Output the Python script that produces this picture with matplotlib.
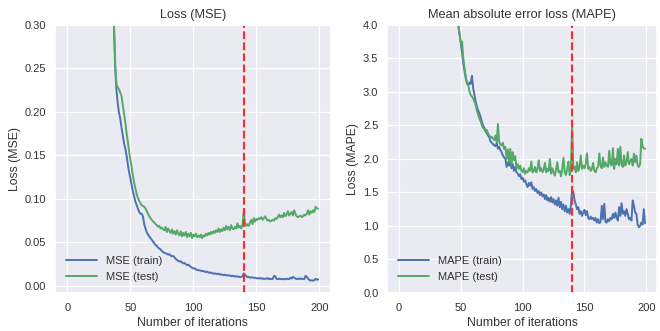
import numpy as np
import matplotlib
matplotlib.use("Agg")
import matplotlib.pyplot as plt
import seaborn as sns

sns.set_theme(style="darkgrid")
plt.rcParams["font.family"] = ["Liberation Sans", "DejaVu Sans"]

# iterations for each series (values before the start are above the plot top)
mse_iters = np.arange(36, 200)
mape_iters = np.arange(46, 200)

mse_train = [
    0.34, 0.30, 0.25, 0.225, 0.21, 0.199, 0.192, 0.182, 0.173, 0.164,
    0.158, 0.150, 0.140, 0.131, 0.124, 0.116, 0.109, 0.103, 0.097, 0.093,
    0.089, 0.085, 0.083, 0.083, 0.080, 0.071, 0.066, 0.062, 0.059, 0.057,
    0.055, 0.053, 0.051, 0.049, 0.047, 0.046, 0.044, 0.043, 0.042, 0.040,
    0.039, 0.038, 0.0375, 0.037, 0.036, 0.0365, 0.035, 0.034, 0.0345, 0.033,
    0.031, 0.030, 0.029, 0.028, 0.0285, 0.027, 0.026, 0.0265, 0.025, 0.024,
    0.0245, 0.023, 0.022, 0.021, 0.020, 0.0205, 0.019, 0.0185, 0.018, 0.018,
    0.0175, 0.017, 0.0172, 0.0165, 0.016, 0.0165, 0.0155, 0.015, 0.0155, 0.0148,
    0.014, 0.0145, 0.014, 0.0138, 0.0142, 0.013, 0.0135, 0.0128, 0.0125, 0.013,
    0.012, 0.0125, 0.0118, 0.0122, 0.0112, 0.0118, 0.011, 0.0115, 0.0105, 0.011,
    0.0108, 0.010, 0.0105, 0.011, 0.0145, 0.013, 0.0115, 0.010, 0.0105, 0.0095,
    0.010, 0.0098, 0.0092, 0.0095, 0.0088, 0.009, 0.0085, 0.0092, 0.0083, 0.0088,
    0.008, 0.0085, 0.0082, 0.009, 0.0078, 0.0085, 0.0078, 0.0082, 0.0115, 0.0112,
    0.008, 0.0078, 0.0085, 0.0078, 0.0082, 0.0076, 0.008, 0.0078, 0.0084, 0.0078,
    0.008, 0.0095, 0.0085, 0.0105, 0.0095, 0.0085, 0.008, 0.0085, 0.0078, 0.0088,
    0.008, 0.0082, 0.0078, 0.0115, 0.0105, 0.0085, 0.007, 0.0062, 0.0065, 0.006,
    0.0068, 0.0082, 0.0072, 0.0075,
]
mse_test = [
    0.34, 0.30, 0.255, 0.232, 0.228, 0.226, 0.222, 0.218, 0.208, 0.198,
    0.188, 0.176, 0.166, 0.155, 0.145, 0.137, 0.127, 0.119, 0.112, 0.106,
    0.101, 0.098, 0.095, 0.093, 0.092, 0.091, 0.089, 0.086, 0.083, 0.080,
    0.078, 0.076, 0.074, 0.073, 0.071, 0.070, 0.068, 0.069, 0.066, 0.067,
    0.065, 0.064, 0.068, 0.062, 0.066, 0.063, 0.061, 0.065, 0.060, 0.063,
    0.059, 0.064, 0.060, 0.058, 0.063, 0.057, 0.061, 0.058, 0.062, 0.056,
    0.060, 0.057, 0.061, 0.055, 0.059, 0.057, 0.060, 0.056, 0.058, 0.056,
    0.059, 0.055, 0.058, 0.057, 0.060, 0.058, 0.061, 0.059, 0.062, 0.060,
    0.063, 0.061, 0.064, 0.062, 0.066, 0.062, 0.065, 0.063, 0.067, 0.064,
    0.069, 0.065, 0.068, 0.064, 0.070, 0.066, 0.065, 0.068, 0.066, 0.072,
    0.067, 0.069, 0.066, 0.070, 0.086, 0.072, 0.069, 0.071, 0.069, 0.073,
    0.076, 0.071, 0.078, 0.074, 0.077, 0.076, 0.078, 0.077, 0.079, 0.076,
    0.078, 0.080, 0.077, 0.075, 0.076, 0.074, 0.075, 0.076, 0.075, 0.078,
    0.077, 0.079, 0.082, 0.079, 0.081, 0.079, 0.084, 0.080, 0.082, 0.086,
    0.081, 0.083, 0.085, 0.081, 0.087, 0.083, 0.080, 0.079, 0.080, 0.081,
    0.079, 0.080, 0.082, 0.081, 0.083, 0.087, 0.082, 0.086, 0.084, 0.087,
    0.085, 0.091, 0.089, 0.089,
]

mape_train = [
    4.3, 4.1, 3.98, 3.85, 3.73, 3.58, 3.42, 3.30, 3.20, 3.13,
    3.10, 3.14, 3.12, 3.24, 3.05, 2.95, 2.85, 2.78, 2.72, 2.68,
    2.62, 2.55, 2.50, 2.46, 2.43, 2.38, 2.35, 2.32, 2.26, 2.24,
    2.22, 2.20, 2.19, 2.24, 2.15, 2.18, 2.13, 2.10, 2.05, 2.02,
    2.00, 1.88, 1.95, 1.90, 1.96, 1.86, 1.92, 1.82, 1.88, 1.80,
    1.78, 1.74, 1.77, 1.70, 1.72, 1.66, 1.68, 1.62, 1.58, 1.64,
    1.60, 1.65, 1.55, 1.58, 1.52, 1.55, 1.49, 1.52, 1.46, 1.50,
    1.44, 1.47, 1.40, 1.46, 1.38, 1.42, 1.36, 1.43, 1.35, 1.40,
    1.32, 1.38, 1.30, 1.42, 1.28, 1.36, 1.25, 1.32, 1.22, 1.30,
    1.20, 1.25, 1.18, 1.30, 1.54, 1.50, 1.38, 1.32, 1.25, 1.28,
    1.18, 1.22, 1.15, 1.20, 1.24, 1.16, 1.22, 1.12, 1.10, 1.14,
    1.10, 1.12, 1.08, 1.12, 1.05, 1.10, 1.04, 1.06, 1.30, 1.10,
    1.33, 1.06, 1.05, 1.10, 1.07, 1.12, 1.10, 1.18, 1.12, 1.20,
    1.12, 1.08, 1.28, 1.15, 1.34, 1.18, 1.22, 1.15, 1.25, 1.18,
    1.10, 1.12, 1.08, 1.38, 1.30, 1.20, 1.18, 1.02, 0.98, 1.00,
    1.05, 1.02, 1.25, 1.04,
]
mape_test = [
    4.3, 4.1, 4.0, 3.85, 3.72, 3.75, 3.50, 3.35, 3.22, 3.12,
    3.10, 3.00, 2.95, 2.93, 2.90, 2.85, 2.80, 2.72, 2.66, 2.60,
    2.56, 2.50, 2.46, 2.44, 2.40, 2.43, 2.38, 2.35, 2.32, 2.33,
    2.30, 2.28, 2.35, 2.26, 2.52, 2.25, 2.22, 2.20, 2.24, 2.15,
    2.18, 2.00, 2.14, 1.95, 2.15, 1.92, 2.10, 1.98, 2.04, 1.86,
    1.92, 1.85, 1.90, 1.82, 1.80, 1.86, 1.78, 1.82, 1.80, 1.86,
    1.82, 1.96, 1.80, 1.82, 1.88, 1.80, 1.85, 1.98, 1.82, 1.86,
    1.80, 1.84, 1.94, 1.80, 1.85, 1.82, 2.00, 1.78, 1.86, 1.80,
    1.75, 1.84, 1.95, 1.80, 1.82, 1.74, 1.85, 2.02, 1.80, 1.76,
    1.85, 1.96, 1.76, 1.82, 2.50, 1.85, 1.88, 1.80, 1.95, 1.82,
    1.88, 2.05, 1.85, 1.90, 1.86, 1.92, 2.08, 1.85, 1.88, 1.82,
    1.85, 1.94, 1.82, 1.80, 1.86, 1.88, 2.08, 1.90, 1.86, 2.02,
    1.88, 1.95, 1.90, 1.88, 2.12, 1.92, 1.90, 2.16, 1.85, 2.00,
    1.92, 2.15, 1.90, 2.18, 1.92, 1.88, 2.05, 1.90, 1.95, 2.10,
    1.92, 1.96, 2.00, 1.90, 2.08, 1.95, 2.05, 1.90, 1.88, 1.92,
    2.30, 2.18, 2.16, 2.15,
]

best_iter = 140
train_color = "#4C72B0"
test_color = "#55A868"
text_color = "#333333"

fig = plt.figure(figsize=(6.6, 3.31), dpi=100)
ax1 = fig.add_axes([0.083, 0.115, 0.418, 0.81])
ax2 = fig.add_axes([0.586, 0.115, 0.41, 0.81])

ax1.plot(mse_iters, mse_train, color=train_color, label="MSE (train)", lw=1.4)
ax1.plot(mse_iters, mse_test, color=test_color, label="MSE (test)", lw=1.4)
ax1.axvline(best_iter, color="#FF2A2A", ls="--", lw=1.5)
ax1.set_xlim(-9.95, 208.95)
ax1.set_ylim(-0.008, 0.30)
ax1.set_title("Loss (MSE)", fontsize=9.2, color=text_color, pad=5)
ax1.set_xlabel("Number of iterations", fontsize=8.8, color=text_color, labelpad=3)
ax1.set_ylabel("Loss (MSE)", fontsize=8.8, color=text_color, labelpad=3)

ax2.plot(mape_iters, mape_train, color=train_color, label="MAPE (train)", lw=1.4)
ax2.plot(mape_iters, mape_test, color=test_color, label="MAPE (test)", lw=1.4)
ax2.axvline(best_iter, color="#FF2A2A", ls="--", lw=1.5)
ax2.set_xlim(-9.95, 208.95)
ax2.set_ylim(0, 4.0)
ax2.set_title("Mean absolute error loss (MAPE)", fontsize=9.2, color=text_color, pad=5)
ax2.set_xlabel("Number of iterations", fontsize=8.8, color=text_color, labelpad=3)
ax2.set_ylabel("Loss (MAPE)", fontsize=8.8, color=text_color, labelpad=3)

for ax in (ax1, ax2):
    ax.tick_params(axis="x", labelsize=8, colors=text_color, length=0, pad=7)
    ax.tick_params(axis="y", labelsize=8, colors=text_color, length=0, pad=6)
    ax.grid(color="white", lw=0.9)
    leg = ax.legend(loc="lower left", frameon=False, fontsize=8,
                    handlelength=2.8, borderaxespad=0.6)
    for t in leg.get_texts():
        t.set_color(text_color)

fig.savefig("out.png", dpi=100)
plt.close()
